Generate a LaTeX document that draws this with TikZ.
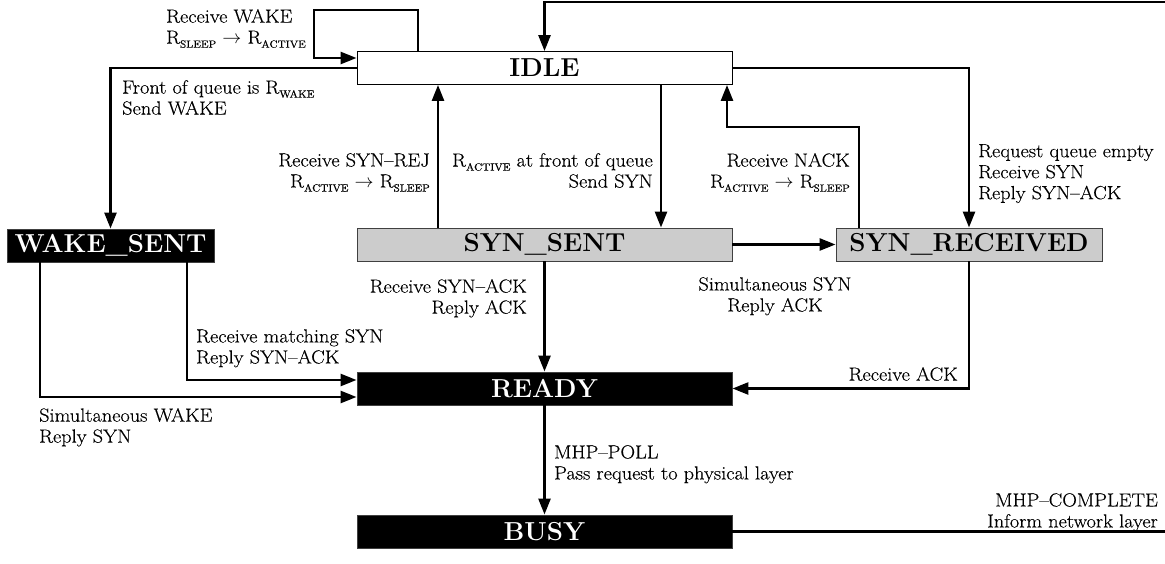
\RequirePackage{fix-cm}
\documentclass[tikz,border=0pt]{standalone}
\usepackage{fontspec}
\newfontfamily\lblfont{Latin Modern Roman}[Ligatures=TeX,FakeStretch=1.07,FakeBold=0.3]
\usetikzlibrary{arrows.meta}
\newcommand{\Rs}[1]{R\raisebox{-0.5ex}{\fontsize{10.5}{10.5}\selectfont #1}}
\tikzset{
 state/.style={draw=black!75, line width=0.9pt, minimum width=375pt, minimum height=33pt, inner sep=0pt, font=\fontsize{26}{28}\selectfont\bfseries},
 blackstate/.style={state, fill=black, text=white},
 graystate/.style={state, fill=black!20},
 conn/.style={line width=2.6pt, -{Triangle[length=16pt,width=12pt]}},
 lbl/.style={inner sep=0pt, font=\lblfont\fontsize{19}{21}\selectfont},
}
\begin{document}
\begin{tikzpicture}[x=1pt,y=-1pt]
\useasboundingbox (0,0) rectangle (1165,564);
\clip (0,0) rectangle (1165,564);
% states
\node[state, fill=white, draw=black] (IDLE) at (544.5,68) {IDLE};
\node[blackstate, minimum width=207pt] (WAKE) at (110.5,245.5) {WAKE\_SENT};
\node[graystate] (SYN) at (544.5,244.5) {SYN\_SENT};
\node[graystate, minimum width=266pt] (SYNR) at (969,244.5) {SYN\_RECEIVED};
\node[blackstate] (READY) at (544.5,388.5) {READY};
\node[blackstate] (BUSY) at (544.5,531.5) {BUSY};
% connectors
\draw[conn] (418,0 |- IDLE.north) -- (418,10) -- (314,10) |- (IDLE.west |- 0,58);
\draw[conn] (IDLE.west) -| (WAKE.north);
\draw[conn] (BUSY.east) -- (1185,0 |- BUSY.east) -- (1185,2) -| (IDLE.north);
\draw[conn] (438,0 |- SYN.north) -- (438,0 |- IDLE.south);
\draw[conn] (661,0 |- IDLE.south) -- (661,0 |- SYN.north);
\draw[conn] (859,0 |- SYNR.north) |- (727,127) -- (727,0 |- IDLE.south);
\draw[conn] (IDLE.east) -| (SYNR.north);
\draw[conn] (SYN.east) -- (SYNR.west);
\draw[conn] (SYN.south) -- (READY.north);
\draw[conn] (187,0 |- WAKE.south) |- (READY.west |- 0,380);
\draw[conn] (40,0 |- WAKE.south) |- (READY.west |- 0,397);
\draw[conn] (SYNR.south) |- (READY.east);
\draw[conn] (READY.south) -- (BUSY.north);
% labels
\node[lbl, anchor=north west, align=left] (l1) at (166,9) {Receive WAKE\\\Rs{SLEEP} $\rightarrow$ \Rs{ACTIVE}};
\node[lbl, anchor=north west, align=left] (l2) at (122,80) {Front of queue is \Rs{WAKE}\\Send WAKE};
\node[lbl, anchor=north east, align=right] (l3) at (430,153) {Receive SYN--REJ\\\Rs{ACTIVE} $\rightarrow$ \Rs{SLEEP}};
\node[lbl, anchor=north east, align=right] (l4) at (653,153) {\Rs{ACTIVE} at front of queue\\Send SYN};
\node[lbl, anchor=north east, align=right] (l5) at (850,153) {Receive NACK\\\Rs{ACTIVE} $\rightarrow$ \Rs{SLEEP}};
\node[lbl, anchor=north west, align=left] (l6) at (978,144) {Request queue empty\\Receive SYN\\Reply SYN--ACK};
\node[lbl, anchor=north east, align=right] (l7) at (527,279) {Receive SYN--ACK\\Reply ACK};
\node[lbl, anchor=north west, align=left] (l8) at (196,329) {Receive matching SYN\\Reply SYN--ACK};
\node[lbl, anchor=north west, align=left] (l9) at (39,408) {Simultaneous WAKE\\Reply SYN};
\node[lbl, anchor=north, align=center] (l10) at (775,277) {Simultaneous SYN\\Reply ACK};
\node[lbl, anchor=north east, align=right] (l11) at (958,367) {Receive ACK};
\node[lbl, anchor=north west, align=left] (l12) at (554,445) {MHP--POLL\\Pass request to physical layer};
\node[lbl, anchor=north east, align=right] (l13) at (1158,493) {MHP--COMPLETE\\Inform network layer};
\end{tikzpicture}
\end{document}
